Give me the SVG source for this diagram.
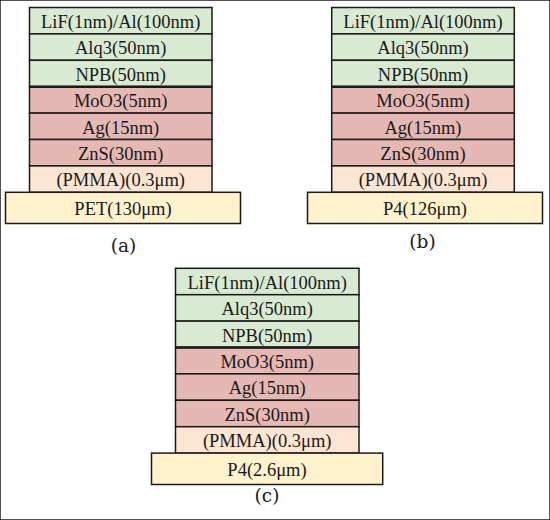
<svg xmlns="http://www.w3.org/2000/svg" width="550" height="520" viewBox="0 0 550 520">
<style>
rect{stroke:#1a1a1a;stroke-width:1.5}
.g{fill:#d9ead3}
.r{fill:#e6b8b3}
.p{fill:#fce5d3}
.s{fill:#fff2cc}
.sep{stroke:#1a1a1a;stroke-width:2.6}
text{font-family:"Liberation Serif","Times New Roman",serif;font-size:18.5px;fill:#1a1a1a;text-anchor:middle}
.cap{font-family:"DejaVu Serif","Liberation Serif",serif;font-size:18.5px}
</style>
<rect x="0" y="0" width="550" height="520" fill="#fff" stroke="none"/>
<g id="stack-a">
<g id="a-lif"><rect class="g" x="29.5" y="7.5" width="182.5" height="26.4"/><text x="120.7" y="27.9">LiF(1nm)/Al(100nm)</text></g>
<g id="a-alq3"><rect class="g" x="29.5" y="33.9" width="182.5" height="26.4"/><text x="120.7" y="54.3">Alq3(50nm)</text></g>
<g id="a-npb"><rect class="g" x="29.5" y="60.3" width="182.5" height="26.4"/><text x="120.7" y="80.7">NPB(50nm)</text></g>
<g id="a-moo3"><rect class="r" x="29.5" y="86.7" width="182.5" height="26.4"/><text x="120.7" y="107.1">MoO3(5nm)</text></g>
<g id="a-ag"><rect class="r" x="29.5" y="113.1" width="182.5" height="26.4"/><text x="120.7" y="133.5">Ag(15nm)</text></g>
<g id="a-zns"><rect class="r" x="29.5" y="139.5" width="182.5" height="26.4"/><text x="120.7" y="159.9">ZnS(30nm)</text></g>
<g id="a-pmma"><rect class="p" x="29.5" y="165.9" width="182.5" height="26.4"/><text x="120.7" y="186.3">(PMMA)(0.3μm)</text></g>
<g id="a-sub"><rect class="s" x="5.5" y="192.3" width="235" height="31.2"/><text x="123" y="214.7">PET(130μm)</text></g>
<line class="sep" x1="29.5" y1="86.7" x2="212" y2="86.7"/>
<text class="cap" x="123.5" y="251.5">(a)</text>
</g>
<g id="stack-b">
<g id="b-lif"><rect class="g" x="331.7" y="7.5" width="182.6" height="26.4"/><text x="423" y="27.9">LiF(1nm)/Al(100nm)</text></g>
<g id="b-alq3"><rect class="g" x="331.7" y="33.9" width="182.6" height="26.4"/><text x="423" y="54.3">Alq3(50nm)</text></g>
<g id="b-npb"><rect class="g" x="331.7" y="60.3" width="182.6" height="26.4"/><text x="423" y="80.7">NPB(50nm)</text></g>
<g id="b-moo3"><rect class="r" x="331.7" y="86.7" width="182.6" height="26.4"/><text x="423" y="107.1">MoO3(5nm)</text></g>
<g id="b-ag"><rect class="r" x="331.7" y="113.1" width="182.6" height="26.4"/><text x="423" y="133.5">Ag(15nm)</text></g>
<g id="b-zns"><rect class="r" x="331.7" y="139.5" width="182.6" height="26.4"/><text x="423" y="159.9">ZnS(30nm)</text></g>
<g id="b-pmma"><rect class="p" x="331.7" y="165.9" width="182.6" height="26.4"/><text x="423" y="186.3">(PMMA)(0.3μm)</text></g>
<g id="b-sub"><rect class="s" x="307.5" y="192.3" width="235" height="31.2"/><text x="425" y="214.7">P4(126μm)</text></g>
<line class="sep" x1="331.7" y1="86.7" x2="514.3" y2="86.7"/>
<text class="cap" x="422.5" y="247.5">(b)</text>
</g>
<g id="stack-c">
<g id="c-lif"><rect class="g" x="175.5" y="268.3" width="183.5" height="26.4"/><text x="267.2" y="288.7">LiF(1nm)/Al(100nm)</text></g>
<g id="c-alq3"><rect class="g" x="175.5" y="294.7" width="183.5" height="26.4"/><text x="267.2" y="315.1">Alq3(50nm)</text></g>
<g id="c-npb"><rect class="g" x="175.5" y="321.1" width="183.5" height="26.4"/><text x="267.2" y="341.5">NPB(50nm)</text></g>
<g id="c-moo3"><rect class="r" x="175.5" y="347.5" width="183.5" height="26.4"/><text x="267.2" y="367.9">MoO3(5nm)</text></g>
<g id="c-ag"><rect class="r" x="175.5" y="373.9" width="183.5" height="26.4"/><text x="267.2" y="394.3">Ag(15nm)</text></g>
<g id="c-zns"><rect class="r" x="175.5" y="400.3" width="183.5" height="26.4"/><text x="267.2" y="420.7">ZnS(30nm)</text></g>
<g id="c-pmma"><rect class="p" x="175.5" y="426.7" width="183.5" height="26.4"/><text x="267.2" y="447.1">(PMMA)(0.3μm)</text></g>
<g id="c-sub"><rect class="s" x="151.5" y="453.1" width="231.2" height="31.4"/><text x="267" y="475.6">P4(2.6μm)</text></g>
<line class="sep" x1="175.5" y1="347.5" x2="359" y2="347.5"/>
<text class="cap" x="267" y="502">(c)</text>
</g>
<g id="connectors"></g>
</svg>
